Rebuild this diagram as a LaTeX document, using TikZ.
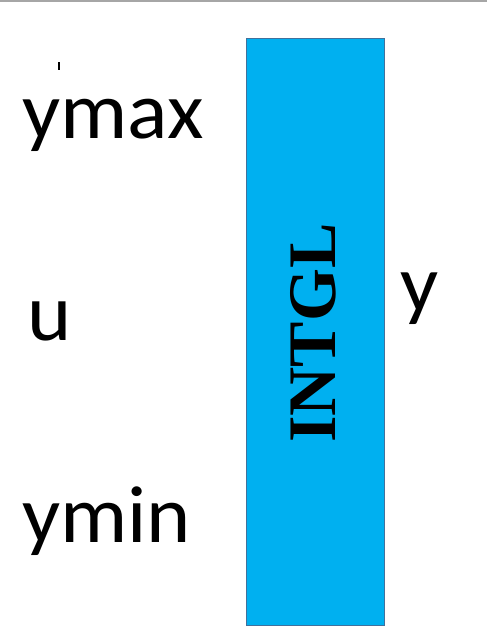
\documentclass[tikz,border=0pt]{standalone}
\usepackage{fontspec}
\setmainfont{Carlito}[FakeStretch=1.04]
\newfontfamily\serifbold{Liberation Serif}
\definecolor{boxfill}{HTML}{00B0F0}
\definecolor{boxline}{HTML}{41719C}
\definecolor{topline}{HTML}{A6A6A6}
\begin{document}
\begin{tikzpicture}[x=1pt,y=-1pt,
  lbl/.style={inner sep=0pt,anchor=base west,font=\fontsize{81}{81}\selectfont}]
\useasboundingbox (0,0) rectangle (487,641);
\draw[topline,line width=1.5pt] (0,0.75) -- (487,0.75);
\draw[black,line width=1.3pt] (59,62) -- (59,70);
\node[draw=boxline,fill=boxfill,line width=1pt,minimum width=138pt,minimum height=587pt,inner sep=0pt] (intgl) at (315.5,331.5) {};
\node[rotate=90,inner sep=0pt,font=\serifbold\bfseries\fontsize{68}{68}\selectfont] (intgltext) at (313,333) {INTGL};
\node[lbl] (ymax) at (22,138) {ymax};
\node[lbl] (u) at (27,340) {u};
\node[lbl] (ymin) at (22,542) {ymin};
\node[lbl] (y) at (400,311) {y};
\end{tikzpicture}
\end{document}
